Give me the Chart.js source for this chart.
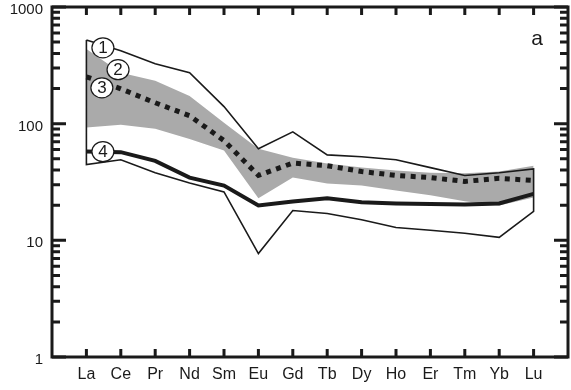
<!DOCTYPE html>
<html>
<head>
<meta charset="utf-8">
<script src="https://cdn.jsdelivr.net/npm/chart.js@4.4.1/dist/chart.umd.min.js"></script>
<style>
    html, body { margin: 0; padding: 0; background: #fff; }
    #wrap { width: 571px; height: 390px; position: relative; }
</style>
</head>
<body>
<div id="wrap"><canvas id="ree-chart"></canvas></div>
<script>
const elements = ['La', 'Ce', 'Pr', 'Nd', 'Sm', 'Eu', 'Gd', 'Tb', 'Dy', 'Ho', 'Er', 'Tm', 'Yb', 'Lu'];

// envelope (1)
const envelopeUpper = [522, 421, 326, 273, 140, 61, 85, 54, 52, 49, 42, 36, 38, 41];
const envelopeLower = [44.6, 49, 38, 31, 26, 7.7, 18, 17, 15, 12.9, 12.2, 11.5, 10.6, 17.7];
// grey field (2)
const bandUpper = [437, 273, 233, 173, 102, 61, 51, 45.5, 42, 39.6, 38, 37.6, 39, 43.6];
const bandLower = [92.5, 98, 90.5, 74, 59, 22.9, 34.5, 30.7, 29.5, 26.8, 24.3, 21.6, 19.9, 23.3];
// dotted pattern (3)
const dottedLine = [252, 199, 151, 117, 71.6, 36, 46, 43.6, 38.9, 36, 34.5, 32, 34, 32.6];
// thick pattern (4)
const thickLine = [57.6, 57, 48, 34.5, 29.5, 19.9, 21.5, 22.9, 21.2, 20.7, 20.5, 20.3, 20.7, 25];

const yTicks = [1, 10, 100, 1000];
const circleLabels = [
    { text: '1', x: 1.48, y: 447 },
    { text: '2', x: 1.92, y: 290 },
    { text: '3', x: 1.45, y: 203 },
    { text: '4', x: 1.48, y: 57.6 }
];

const INK = '#1a1a1a';
const FONT = "'Liberation Sans', Arial, sans-serif";

const toPoints = (arr) => arr.map((v, i) => ({ x: i + 1, y: v }));

const envelopePolygon = toPoints(envelopeUpper)
    .concat(toPoints(envelopeLower).reverse())
    .concat([{ x: 1, y: envelopeUpper[0] }]);

const frameTicks = {
    id: 'frameTicks',
    afterDatasetsDraw(chart) {
        const { ctx, chartArea: a, scales } = chart;
        const xs = scales.x, ys = scales.y;
        ctx.save();

        // circled labels
        circleLabels.forEach(c => {
            const px = xs.getPixelForValue(c.x);
            const py = ys.getPixelForValue(c.y);
            ctx.beginPath();
            ctx.ellipse(px, py, 11, 10, 0, 0, Math.PI * 2);
            ctx.fillStyle = '#fff';
            ctx.fill();
            ctx.lineWidth = 1.2;
            ctx.strokeStyle = INK;
            ctx.stroke();
            ctx.fillStyle = INK;
            ctx.font = '17px ' + FONT;
            ctx.textAlign = 'center';
            ctx.textBaseline = 'middle';
            ctx.fillText(c.text, px, py + 1);
        });

        ctx.strokeStyle = INK;
        ctx.lineWidth = 3;
        ctx.lineCap = 'butt';

        // inward ticks on top and bottom
        elements.forEach((el, i) => {
            const px = xs.getPixelForValue(i + 1);
            ctx.beginPath();
            ctx.moveTo(px, a.bottom);
            ctx.lineTo(px, a.bottom - 8);
            ctx.moveTo(px, a.top);
            ctx.lineTo(px, a.top + 8);
            ctx.stroke();
        });

        // inward ticks on left and right
        yTicks.forEach(d => {
            const py = ys.getPixelForValue(d);
            ctx.beginPath();
            ctx.moveTo(a.left, py);
            ctx.lineTo(a.left + 14, py);
            ctx.moveTo(a.right, py);
            ctx.lineTo(a.right - 14, py);
            ctx.stroke();
            if (d < 1000) {
                for (let m = 2; m <= 9; m++) {
                    const my = ys.getPixelForValue(d * m);
                    ctx.beginPath();
                    ctx.moveTo(a.left, my);
                    ctx.lineTo(a.left + 8, my);
                    ctx.moveTo(a.right, my);
                    ctx.lineTo(a.right - 8, my);
                    ctx.stroke();
                }
            }
        });

        ctx.strokeRect(a.left, a.top, a.right - a.left, a.bottom - a.top);

        ctx.fillStyle = INK;
        ctx.font = '21px ' + FONT;
        ctx.textAlign = 'center';
        ctx.textBaseline = 'middle';
        ctx.fillText('a', a.right - 31, a.top + 32);
        ctx.restore();
    }
};

new Chart(document.getElementById('ree-chart'), {
    type: 'line',
    data: {
        datasets: [
            {
                data: toPoints(thickLine),
                borderColor: INK,
                borderWidth: 4,
                pointRadius: 0,
                order: 1
            },
            {
                data: toPoints(dottedLine),
                borderColor: INK,
                borderWidth: 5,
                borderDash: [5, 5.5],
                borderCapStyle: 'butt',
                pointRadius: 0,
                order: 2
            },
            {
                data: envelopePolygon,
                borderColor: INK,
                borderWidth: 1.6,
                pointRadius: 0,
                order: 3
            },
            {
                data: toPoints(bandLower),
                borderWidth: 0,
                borderColor: 'rgba(0,0,0,0)',
                pointRadius: 0,
                order: 5
            },
            {
                data: toPoints(bandUpper),
                borderWidth: 0,
                borderColor: 'rgba(0,0,0,0)',
                backgroundColor: '#aaaaaa',
                fill: '-1',
                pointRadius: 0,
                order: 4
            }
        ]
    },
    options: {
        responsive: true,
        maintainAspectRatio: false,
        animation: false,
        layout: { padding: { top: 7, right: 3, left: 0, bottom: 0 } },
        plugins: {
            legend: { display: false },
            tooltip: { enabled: false }
        },
        elements: { line: { tension: 0 } },
        scales: {
            x: {
                type: 'linear',
                min: 0,
                max: 15,
                afterBuildTicks: (s) => { s.ticks = elements.map((e, i) => ({ value: i + 1 })); },
                afterFit: (s) => { s.height = 33; s.paddingLeft = 0; s.paddingRight = 0; },
                grid: { display: false, drawTicks: false },
                border: { display: false },
                ticks: {
                    autoSkip: false,
                    maxRotation: 0,
                    padding: 8,
                    color: INK,
                    font: { family: FONT, size: 16 },
                    callback: (v) => elements[v - 1] || ''
                }
            },
            y: {
                type: 'logarithmic',
                min: 1,
                max: 1000,
                afterBuildTicks: (s) => { s.ticks = yTicks.map(v => ({ value: v })); },
                afterFit: (s) => { s.width = 52; s.paddingTop = 0; s.paddingBottom = 0; },
                grid: { display: false, drawTicks: false },
                border: { display: false },
                ticks: {
                    autoSkip: false,
                    padding: 9,
                    labelOffset: 3,
                    color: INK,
                    font: { family: FONT, size: 15 },
                    callback: (v) => String(v)
                }
            }
        }
    },
    plugins: [frameTicks]
});
</script>
</body>
</html>
